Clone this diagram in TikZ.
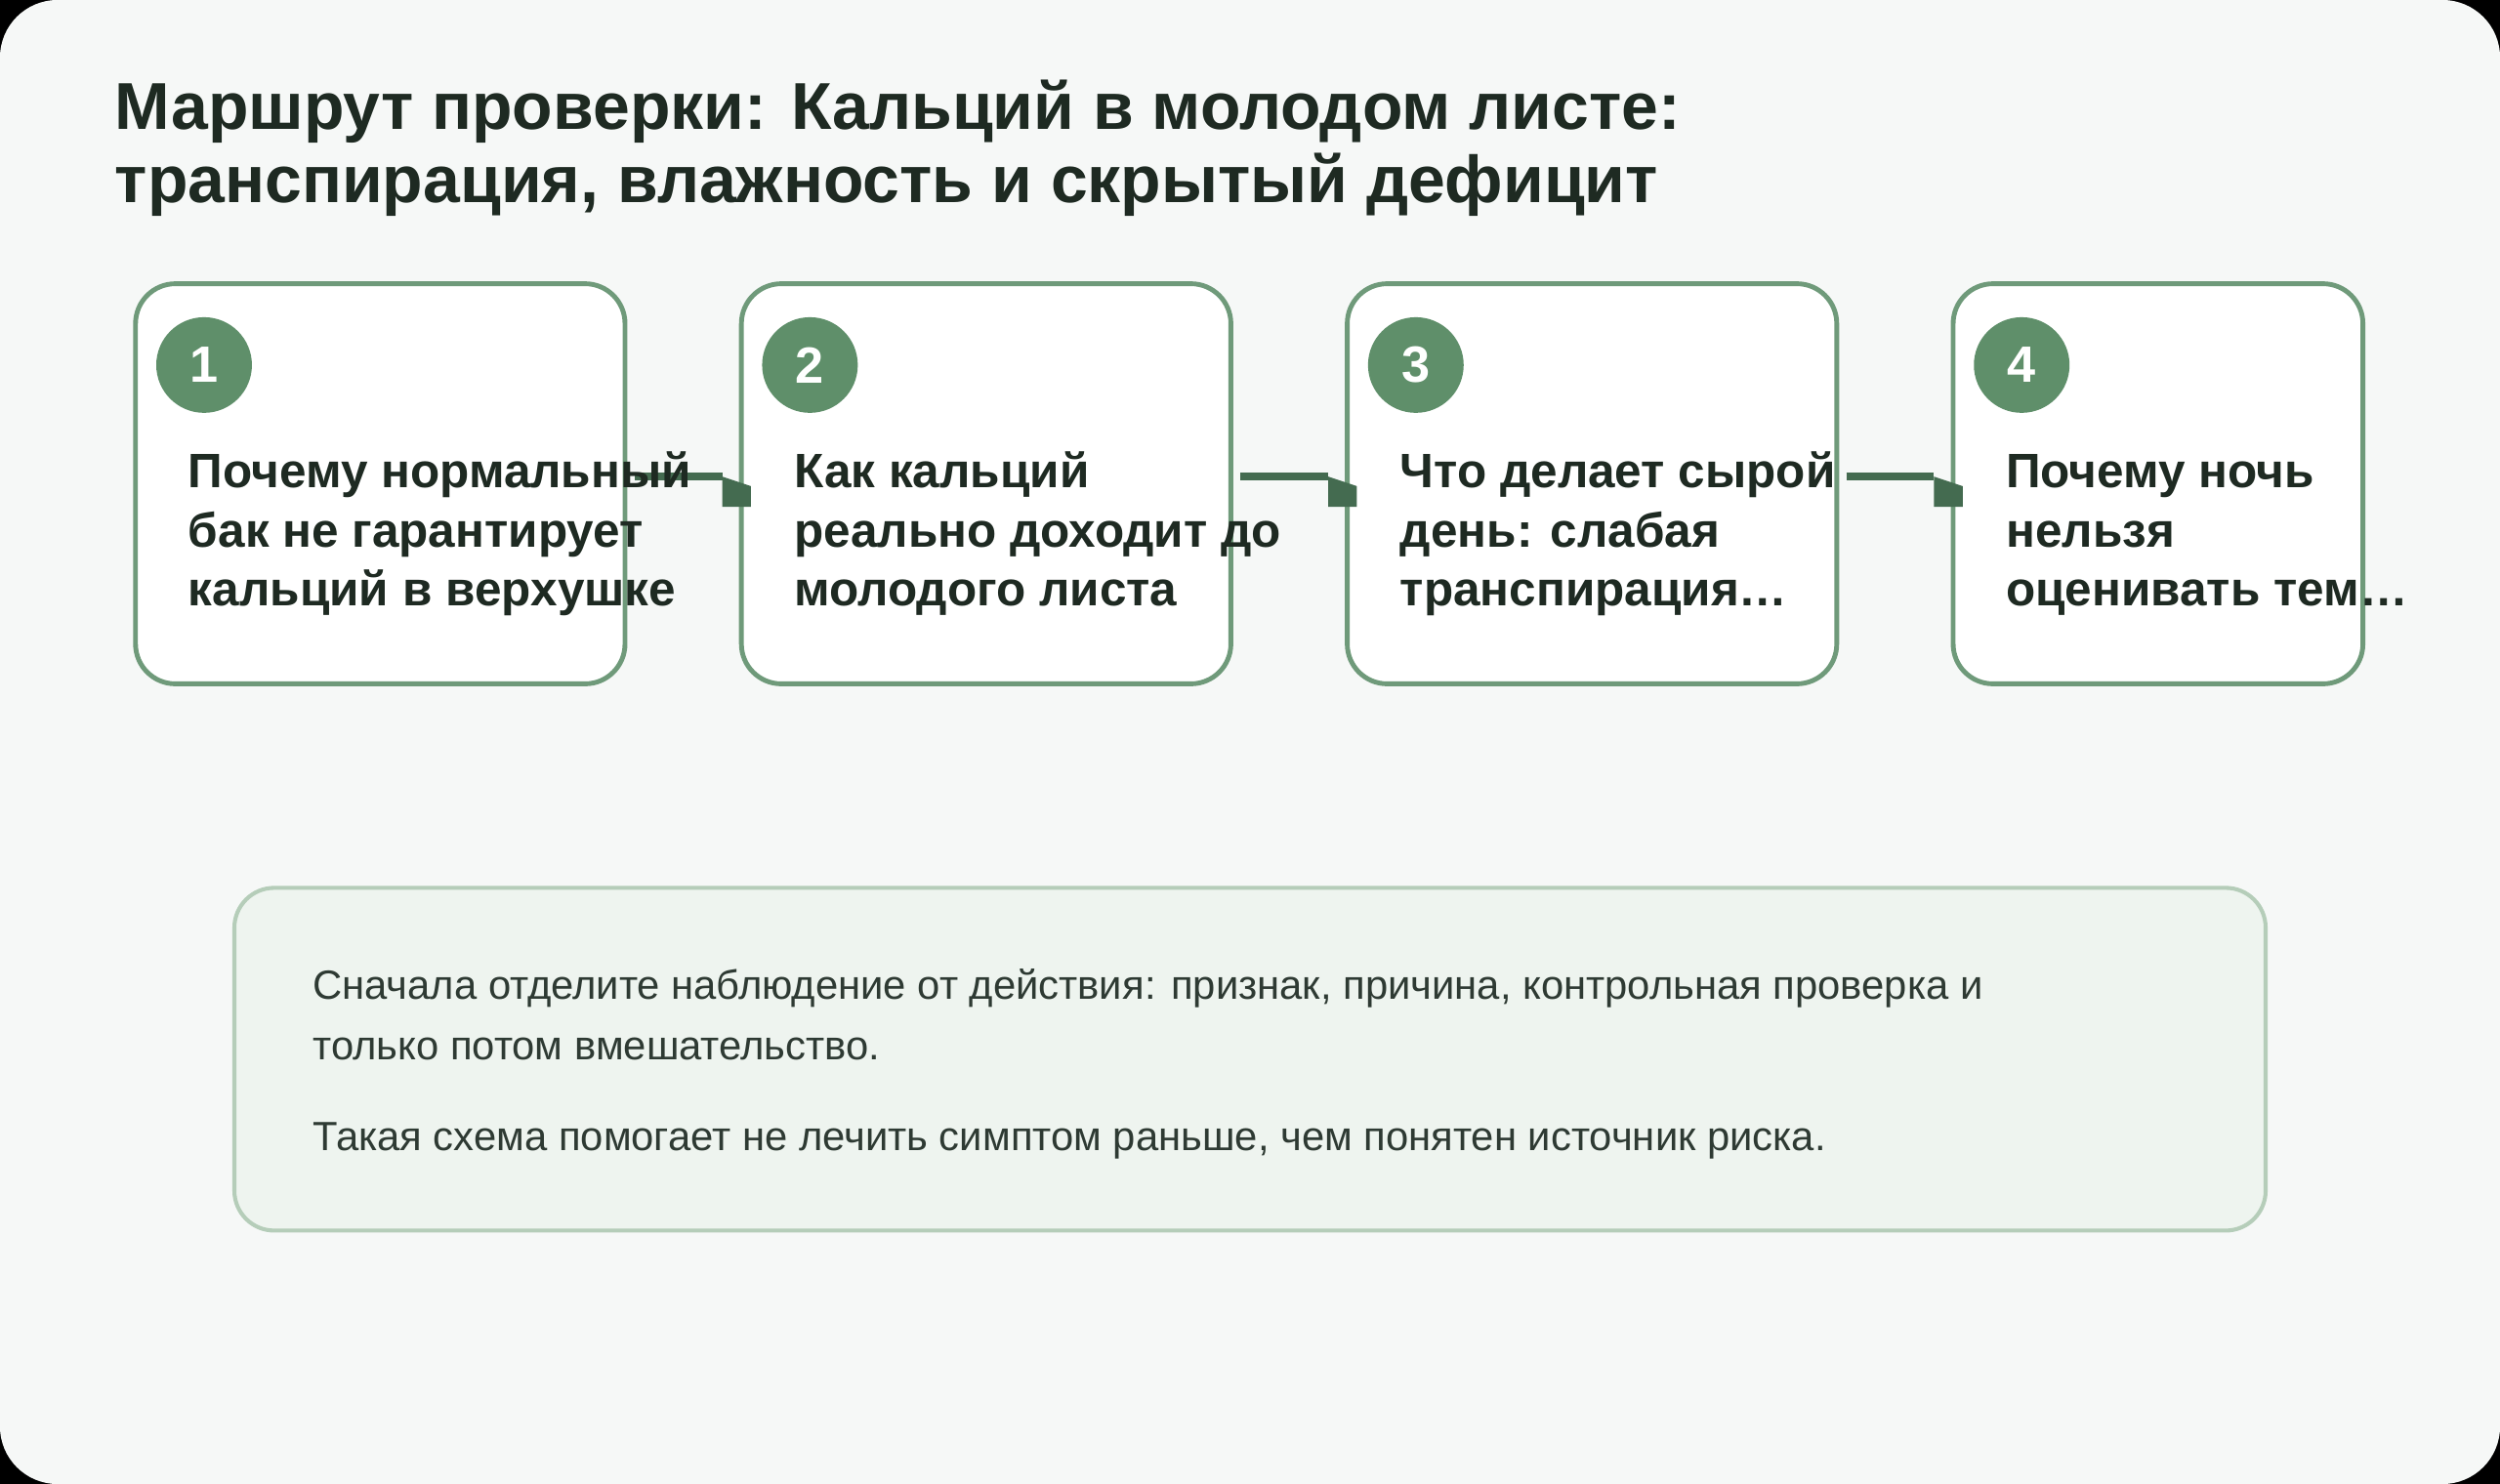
\documentclass[tikz,border=0pt]{standalone}
\usepackage{fontspec}
\setmainfont{Liberation Sans}
\usetikzlibrary{calc}
\definecolor{pagebg}{HTML}{F6F8F7}
\definecolor{cardline}{HTML}{6F9A7A}
\definecolor{badge}{HTML}{5F8F6A}
\definecolor{ink}{HTML}{1E2A22}
\definecolor{link}{HTML}{446B50}
\definecolor{notebg}{HTML}{EEF4EF}
\definecolor{noteline}{HTML}{B5CDB9}
\definecolor{notetext}{HTML}{2E3A33}
\tikzset{
  card/.style={draw=cardline, line width=3pt, fill=white, rounded corners=25pt},
  badge/.style={circle, fill=badge, minimum size=60pt, inner sep=0pt,
    text=white, font=\fontsize{32}{32}\selectfont\bfseries},
  steptext/.style={anchor=base west, inner sep=0pt, text=ink, align=left,
    font=\fontsize{30.3}{37}\selectfont\bfseries},
  note/.style={anchor=base west, inner sep=0pt, text=notetext,
    font=\fontsize{25.6}{38}\selectfont},
  link/.style={draw=link, line width=5pt},
  head/.style={fill=link}
}
\begin{document}
\begin{tikzpicture}[x=1pt, y=-1pt]
  \useasboundingbox (0,0) rectangle (1568,931);
  \fill [black] (0,0) rectangle (1568,931);
  \fill [pagebg, rounded corners=36pt] (0,0) rectangle (1568,931);

  % Title
  \node [anchor=base west, inner sep=0pt, text=ink, align=left,
    font=\fontsize{41.6}{46}\selectfont\bfseries] (title) at (72,127)
    {Маршрут проверки: Кальций в молодом листе:\\
     транспирация, влажность и скрытый дефицит};

  % Cards
  \foreach \n/\x/\w in {1/85/307, 2/465/307, 3/845/307, 4/1225/257} {
    \draw [card] (\x,178) rectangle ++(\w,251);
    \coordinate (c\n) at (\x,178);
    \node [badge] (b\n) at (\x+43,229) {\n};
  }

  % Connectors
  \foreach \a/\b in {1/2, 2/3, 3/4} {
    \coordinate (s\a) at ($(c\a)+(313,121)$);
    \coordinate (e\a) at ($(c\b)+(-12,121)$);
    \draw [link] (s\a) -- (e\a);
    \fill [head] (e\a) -- ++(18,6) -- ++(0,13) -- ++(-18,0) -- cycle;
  }

  \node [steptext] (t1) at (118,380) {Почему нормальный\\бак не гарантирует\\кальций в верхушке};
  \node [steptext] (t2) at (498,380) {Как кальций\\реально доходит до\\молодого листа};
  \node [steptext] (t3) at (878,380) {Что делает сырой\\день: слабая\\транспирация…};
  \node [steptext] (t4) at (1258,380) {Почему ночь\\нельзя\\оценивать тем…};

  % Note
  \draw [draw=noteline, line width=2.5pt, fill=notebg, rounded corners=25pt]
    (147,557) rectangle (1421,772);
  \node [note, align=left] (n1) at (196,665)
    {Сначала отделите наблюдение от действия: признак, причина, контрольная проверка и\\
     только потом вмешательство.};
  \node [note] (n2) at (196,722)
    {Такая схема помогает не лечить симптом раньше, чем понятен источник риска.};
\end{tikzpicture}
\end{document}
